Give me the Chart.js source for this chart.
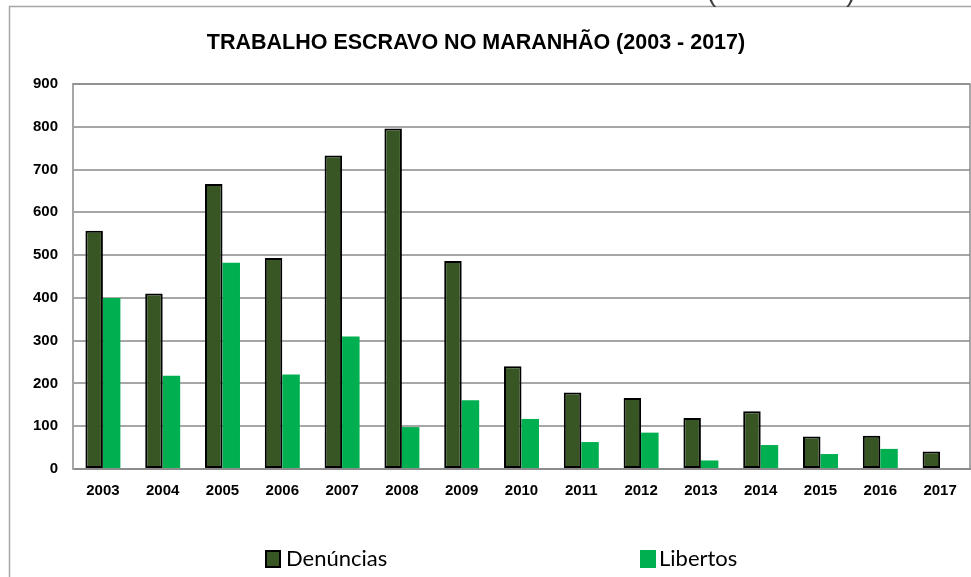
<!DOCTYPE html>
<html>
<head>
<meta charset="utf-8">
<script src="https://cdn.jsdelivr.net/npm/chart.js@4.4.1/dist/chart.umd.min.js"></script>
<style>
  html, body { margin: 0; padding: 0; background: #ffffff; }
  #wrap { width: 971px; height: 577px; position: relative; }
</style>
</head>
<body>
<div id="wrap"><canvas id="c" width="971" height="577"></canvas></div>
<script>
const chartTitle = 'TRABALHO ESCRAVO NO MARANHÃO (2003 - 2017)';
const years = ['2003','2004','2005','2006','2007','2008','2009','2010','2011','2012','2013','2014','2015','2016','2017'];
const denuncias = [557, 410, 666, 493, 733, 796, 486, 240, 179, 166, 119, 135, 76, 78, 41];
const libertos  = [400, 218, 482, 221, 310, 98, 161, 117, 63, 85, 20, 56, 35, 47, 0];
const seriesNames = ['Denúncias', 'Libertos'];
const seriesColors = ['#375623', '#00b050'];
const yTicks = [0, 100, 200, 300, 400, 500, 600, 700, 800, 900];

const decorPlugin = {
  id: 'decor',
  beforeDraw(chart) {
    const ctx = chart.ctx;
    ctx.save();
    ctx.fillStyle = '#ffffff';
    ctx.fillRect(0, 0, chart.width, chart.height);
    // outer frame (clipped by the canvas on the right and bottom)
    ctx.strokeStyle = '#a6a6a6';
    ctx.lineWidth = 1.5;
    ctx.beginPath();
    ctx.moveTo(9.5, chart.height + 2);
    ctx.lineTo(9.5, 6.5);
    ctx.lineTo(chart.width + 2, 6.5);
    ctx.stroke();
    // parentheses of cut-off text above
    ctx.fillStyle = '#404040';
    ctx.font = '28px "Liberation Sans", Arial, sans-serif';
    ctx.textBaseline = 'alphabetic';
    ctx.textAlign = 'left';
    ctx.fillText('(', 707, 1);
    ctx.fillText(')', 846, 1);
    ctx.restore();
  },
  afterDraw(chart) {
    const ctx = chart.ctx;
    const a = chart.chartArea;
    ctx.save();
    // plot border top & right
    ctx.strokeStyle = '#8c8c8c';
    ctx.lineWidth = 1.5;
    ctx.beginPath();
    ctx.moveTo(a.left, a.top);
    ctx.lineTo(a.right, a.top);
    ctx.lineTo(a.right, a.bottom);
    ctx.stroke();
    // title
    ctx.fillStyle = '#000000';
    ctx.font = 'bold 21.5px "Liberation Sans", Arial, sans-serif';
    ctx.textAlign = 'center';
    ctx.textBaseline = 'middle';
    ctx.fillText(chartTitle, 476, 43);
    // legend
    const items = [
      { x: 265, tx: 286, i: 0, border: true },
      { x: 640, tx: 659, i: 1, border: false }
    ];
    ctx.font = '22px Lato, "Open Sans", sans-serif';
    ctx.textAlign = 'left';
    ctx.textBaseline = 'middle';
    items.forEach(it => {
      const ds = chart.data.datasets[it.i];
      ctx.fillStyle = ds.backgroundColor;
      ctx.fillRect(it.x, 550, 16, 18);
      if (it.border) {
        ctx.strokeStyle = '#000000';
        ctx.lineWidth = 2;
        ctx.strokeRect(it.x + 1, 551, 14, 16);
      }
      ctx.fillStyle = '#000000';
      ctx.fillText(ds.label, it.tx, 559);
    });
    ctx.restore();
  }
};

new Chart(document.getElementById('c'), {
  type: 'bar',
  data: {
    labels: years,
    datasets: [
      {
        label: seriesNames[0],
        data: denuncias,
        backgroundColor: seriesColors[0],
        borderColor: '#000000',
        borderWidth: 2,
        borderSkipped: false
      },
      {
        label: seriesNames[1],
        data: libertos,
        backgroundColor: seriesColors[1],
        borderWidth: 0
      }
    ]
  },
  options: {
    responsive: false,
    animation: false,
    devicePixelRatio: 1,
    layout: { padding: { left: 10, top: 84, right: 1, bottom: 78 } },
    plugins: {
      legend: { display: false },
      title: { display: false },
      tooltip: { enabled: false }
    },
    datasets: {
      bar: { categoryPercentage: 0.585, barPercentage: 1.0 }
    },
    scales: {
      x: {
        grid: { display: false, drawTicks: false },
        border: { display: true, color: '#8c8c8c', width: 2 },
        ticks: {
          color: '#000000',
          font: { family: '"Liberation Sans", Arial, sans-serif', size: 15, weight: 'bold' },
          padding: 13,
          maxRotation: 0,
          autoSkip: false
        },
        afterFit(scale) { scale.height = 30; }
      },
      y: {
        min: 0,
        max: 900,
        afterBuildTicks(scale) { scale.ticks = yTicks.map(v => ({ value: v })); },
        grid: { color: '#a6a6a6', lineWidth: 2, drawTicks: false },
        border: { display: true, color: '#a6a6a6', width: 2 },
        ticks: {
          color: '#000000',
          font: { family: '"Liberation Sans", Arial, sans-serif', size: 15, weight: 'bold' },
          padding: 15
        },
        afterFit(scale) { scale.width = 63; }
      }
    }
  },
  plugins: [decorPlugin]
});
</script>
</body>
</html>
